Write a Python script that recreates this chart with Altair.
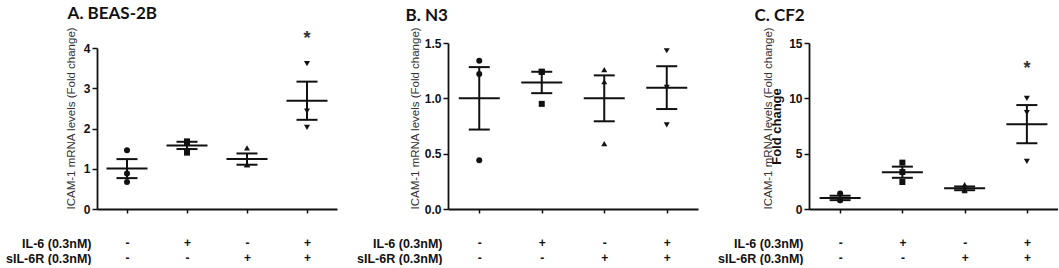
import altair as alt
import pandas as pd

# ---- data ----
il6 = ["-", "+", "-", "+"]
sil6r = ["-", "-", "+", "+"]

beas_values = [[1.46, 0.88, 0.67], [1.68, 1.66, 1.40], [1.52, 1.10, 1.10], [3.61, 2.43, 2.03]]
beas_star = [None, None, None, 4.33]

n3_values = [[1.34, 1.22, 0.44], [1.24, 1.24, 0.95], [1.26, 1.15, 0.59], [1.43, 1.10, 0.76]]
n3_star = [None, None, None, None]

cf2_values = [[1.40, 0.80, 0.80], [4.19, 3.34, 2.44], [2.20, 1.75, 1.65], [10.0, 8.70, 4.30]]
cf2_star = [None, None, None, 12.98]

row_labels = ["IL-6 (0.3nM)", "sIL-6R (0.3nM)"]
ytitle = "ICAM-1 mRNA levels (Fold change)"

groups = [f"{a}|{b}" for a, b in zip(il6, sil6r)]
SHAPES = ["circle", "square", "triangle-up", "triangle-down"]
INK = "#111111"
SANS = "Liberation Sans"


def panel(values, stars, title, title_dx, title_offset, domain, tick_vals, fmt,
          width, height, y_range, ytitle_size, ytitle_x, fold_label=False, fold_x=-33):
    pts = pd.DataFrame([{"grp": groups[i], "value": v}
                        for i, vs in enumerate(values) for v in vs])
    sig = pd.DataFrame([{"grp": groups[i], "star": s}
                        for i, s in enumerate(stars) if s is not None])

    xscale = alt.Scale(type="point", padding=0.5, domain=groups)
    xaxis = alt.Axis(
        labelExpr="split(datum.label, '|')", labelAngle=0, labelFont=SANS,
        labelFontSize=12, labelFontWeight="bold", labelColor=INK,
        labelBaseline="middle", labelPadding=29.5, labelLineHeight=15,
        tickSize=4, tickColor=INK, tickWidth=1.5,
        domainColor=INK, domainWidth=1.8, grid=False, orient="bottom",
        title=row_labels, titleX=-6, titleY=34, titleAlign="right",
        titleBaseline="middle", titleLineHeight=15, titleFont=SANS,
        titleFontSize=12.5, titleFontWeight="bold", titleColor=INK, titleAngle=0,
    )
    sc_kw = {"domain": domain, "nice": False, "zero": True}
    if y_range is not None:
        sc_kw["range"] = y_range
    yscale = alt.Scale(**sc_kw)

    if fold_label:
        main_title = dict(title="Fold change", titleX=fold_x, titleY=height / 2,
                          titleAlign="center", titleFontSize=13,
                          titleFontWeight="bold", titleColor=INK)
    else:
        main_title = dict(title=ytitle, titleX=ytitle_x, titleY=height,
                          titleAlign="left", titleFontSize=ytitle_size,
                          titleFontWeight="normal", titleColor="#333333")
    yaxis = alt.Axis(
        values=tick_vals, format=fmt, labelFont=SANS, labelFontSize=12,
        labelFontWeight="bold", labelColor=INK, labelPadding=2,
        tickSize=5, tickColor=INK, tickWidth=1.5,
        domainColor=INK, domainWidth=1.8, grid=False, orient="left",
        titleFont=SANS, titleAngle=270, titleBaseline="middle", **main_title,
    )

    base = alt.Chart(pts)
    points = base.mark_point(filled=True, size=36, opacity=1, color=INK).encode(
        x=alt.X("grp:N", scale=xscale, axis=xaxis),
        y=alt.Y("value:Q", scale=yscale, axis=yaxis),
        shape=alt.Shape("grp:N", scale=alt.Scale(domain=groups, range=SHAPES), legend=None),
    )
    stats = base.transform_aggregate(
        m="mean(value)", se="stderr(value)", groupby=["grp"]
    ).transform_calculate(lo="datum.m - datum.se", hi="datum.m + datum.se")
    xn = alt.X("grp:N", scale=xscale, axis=None)
    rule = stats.mark_rule(strokeWidth=2, color=INK).encode(
        x=xn, y=alt.Y("lo:Q", scale=yscale, axis=None), y2="hi:Q")
    mean_tick = stats.mark_tick(size=41, thickness=2, color=INK, opacity=1).encode(
        x=xn, y=alt.Y("m:Q", scale=yscale, axis=None))
    hi_tick = stats.mark_tick(size=21, thickness=2, color=INK, opacity=1).encode(
        x=xn, y=alt.Y("hi:Q", scale=yscale, axis=None))
    lo_tick = stats.mark_tick(size=21, thickness=2, color=INK, opacity=1).encode(
        x=xn, y=alt.Y("lo:Q", scale=yscale, axis=None))
    layers = [points, rule, mean_tick, hi_tick, lo_tick]
    if len(sig):
        star = alt.Chart(sig).mark_text(
            text="*", font=SANS, fontSize=18, fontWeight="bold", color="#333333",
            baseline="middle", dy=4
        ).encode(x=xn, y=alt.Y("star:Q", scale=yscale, axis=None))
        layers.append(star)
    if fold_label:
        extra_axis = alt.Axis(
            orient="left", labels=False, ticks=False, domain=False, grid=False,
            title=ytitle, titleX=ytitle_x, titleY=height, titleAlign="left",
            titleAngle=270, titleBaseline="middle", titleFont=SANS,
            titleFontSize=ytitle_size, titleFontWeight="normal", titleColor="#333333",
        )
        ghost = base.mark_point(opacity=0).encode(
            x=xn, y=alt.Y("value:Q", scale=yscale, axis=extra_axis))
        layers.append(ghost)

    ch = alt.layer(*layers).properties(
        width=width, height=height,
        title=alt.TitleParams(title, anchor="start", frame="bounds", dx=title_dx,
                              font="Lato", fontSize=17, fontWeight="bold",
                              color=INK, offset=title_offset),
    ).resolve_axis(x="independent", y="independent")
    return ch


H = 166
pa = panel(beas_values, beas_star, "A. BEAS-2B", 62, 3, [0, 4], [0, 1, 2, 3, 4], "d",
           240, H, [H, 5], 11.5, -26)
pb = panel(n3_values, n3_star, "B. N3", 49, 1, [0, 1.5], [0, 0.5, 1.0, 1.5], ".1f",
           250, H, None, 11.5, -33)
pc = panel(cf2_values, cf2_star, "C. CF2", 37, 1, [0, 15], [0, 5, 10, 15], "d",
           249, H, None, 11.5, -41, fold_label=True, fold_x=-33)

chart = alt.hconcat(pa, pb, pc, spacing=19).properties(
    padding={"left": 5, "top": 5, "right": 0, "bottom": 0}
).configure(background="white").configure_view(stroke=None)

chart.save("out.html", embed_options={"renderer": "svg", "actions": False})
